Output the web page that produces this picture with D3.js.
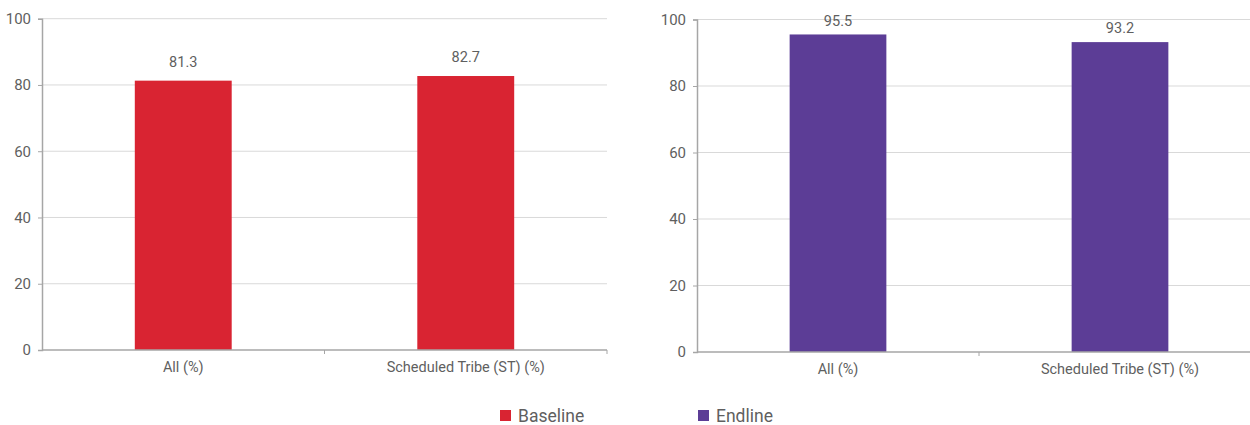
<!DOCTYPE html>
<html><head><meta charset="utf-8">
<script src="https://cdn.jsdelivr.net/npm/d3@7"></script>
<style>body{margin:0;background:#fff}svg{display:block}text{font-family:Roboto,"Noto Sans",sans-serif}</style>
</head><body>
<svg id="c" width="1250" height="425"></svg>
<script>
const categories = ["All (%)", "Scheduled Tribe (ST) (%)"];
const baselineValues = [81.3, 82.7];
const endlineValues = [95.5, 93.2];
const yTicks = [0, 20, 40, 60, 80, 100];
const seriesNames = ["Baseline", "Endline"];
const seriesColors = ["#d92432", "#5c3d96"];

const svg = d3.select("#c");
const panels = [
  {values: baselineValues, color: seriesColors[0], x0: 42, x1: 607, yTop: 18.7, yBot: 350, labelOff: 19},
  {values: endlineValues, color: seriesColors[1], x0: 697, x1: 1261, yTop: 19.5, yBot: 352, labelOff: 14}
];
const textColor = "#5f5f5f";

panels.forEach(p => {
  const g = svg.append("g");
  const x = d3.scaleBand().domain(categories).range([p.x0, p.x1]).paddingInner(0.657).paddingOuter(0.3285);
  const y = d3.scaleLinear().domain([0, 100]).range([p.yBot, p.yTop]);
  g.selectAll(".grid").data(yTicks.filter(t => t > 0)).join("line")
    .attr("x1", p.x0).attr("x2", p.x1)
    .attr("y1", d => y(d)).attr("y2", d => y(d))
    .attr("stroke", "#d9d9d9").attr("stroke-width", 1);
  g.selectAll(".bar").data(p.values).join("rect")
    .attr("x", (d, i) => x(categories[i])).attr("width", x.bandwidth())
    .attr("y", d => y(d)).attr("height", d => y(0) - y(d))
    .attr("fill", p.color);
  g.selectAll(".vl").data(p.values).join("text")
    .attr("x", (d, i) => x(categories[i]) + x.bandwidth() / 2)
    .attr("y", d => y(d) - p.labelOff)
    .attr("dy", "0.35em").attr("text-anchor", "middle")
    .attr("font-size", 14.5).attr("fill", textColor)
    .text(d => d.toFixed(1));
  const ya = g.append("g").attr("transform", `translate(${p.x0},0)`)
    .call(d3.axisLeft(y).tickValues(yTicks).tickSize(4).tickPadding(7));
  ya.select(".domain").attr("stroke", "#a6a6a6").attr("stroke-width", 1.5);
  ya.selectAll(".tick line").attr("stroke", "#a6a6a6");
  ya.selectAll(".tick text").attr("font-size", 15).attr("fill", textColor).attr("font-family", "Roboto,sans-serif");
  const xa = g.append("g").attr("transform", `translate(0,${p.yBot})`)
    .call(d3.axisBottom(x).tickSize(0).tickPadding(12));
  xa.select(".domain").attr("stroke", "#a6a6a6").attr("stroke-width", 1.5).attr("d", `M${p.x0},0H${p.x1}`);
  xa.selectAll(".tick text").attr("font-size", 14.5).attr("fill", textColor).attr("font-family", "Roboto,sans-serif");
  const step = (p.x1 - p.x0) / categories.length;
  g.selectAll(".sep").data(d3.range(1, categories.length + 1)).join("line")
    .attr("x1", d => p.x0 + d * step).attr("x2", d => p.x0 + d * step)
    .attr("y1", p.yBot).attr("y2", p.yBot + 4)
    .attr("stroke", "#a6a6a6");
});

const legendX = [500, 698];
const lg = svg.selectAll(".lg").data(seriesNames).join("g")
  .attr("transform", (d, i) => `translate(${legendX[i]},410)`);
lg.append("rect").attr("width", 11).attr("height", 11).attr("fill", (d, i) => seriesColors[i]);
lg.append("text").attr("x", 18).attr("y", 5.5).attr("dy", "0.35em")
  .attr("font-size", 17.5).attr("fill", textColor).text(d => d);
</script>
</body></html>
